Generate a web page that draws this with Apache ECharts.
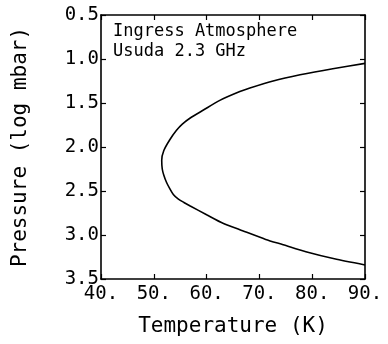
<!DOCTYPE html>
<html>
<head>
<meta charset="utf-8">
<script src="https://cdn.jsdelivr.net/npm/echarts@6/dist/echarts.min.js"></script>
<style>html,body{margin:0;padding:0;background:#fff;}#c{width:388px;height:344px;}</style>
</head>
<body>
<div id="c"></div>
<script>
// Data (temperature profile vs. log pressure)
var pressureLog = [1.05, 1.11, 1.18, 1.25, 1.33, 1.37, 1.47, 1.58, 1.67, 1.74, 1.81, 1.92, 2.04, 2.15, 2.25, 2.32, 2.40, 2.47, 2.54, 2.59, 2.63, 2.67, 2.77, 2.87, 2.94, 3.05, 3.11, 3.19, 3.27, 3.34];
var temperatureK = [90.0, 83.9, 77.7, 72.6, 68.2, 66.3, 62.5, 59.4, 56.9, 55.4, 54.3, 53.0, 51.9, 51.5, 51.6, 51.9, 52.4, 53.0, 53.7, 54.6, 55.7, 56.9, 60.0, 63.2, 66.3, 71.2, 74.5, 78.8, 84.2, 90.0];
var xTicks = [40, 50, 60, 70, 80, 90];
var yTicks = [0.5, 1.0, 1.5, 2.0, 2.5, 3.0, 3.5];
var annotationLines = ['Ingress Atmosphere', 'Usuda 2.3 GHz'];
var xName = 'Temperature (K)';
var yName = 'Pressure (log mbar)';

var FONT = '"DejaVu Sans Mono", monospace';
var chart = echarts.init(document.getElementById('c'), null, {renderer: 'canvas'});
var pts = pressureLog.map(function (p, i) { return [temperatureK[i], p]; });

var axisLineStyle = {show: true, lineStyle: {color: '#000', width: 1.6}};
var tickStyle = {show: true, inside: true, length: 5, lineStyle: {color: '#000', width: 1.2}};

chart.setOption({
  animation: false,
  backgroundColor: '#fff',
  grid: {left: 101, right: 23, top: 15, bottom: 65, containLabel: false},
  xAxis: [{
    type: 'value', position: 'bottom',
    min: xTicks[0], max: xTicks[xTicks.length - 1], interval: xTicks[1] - xTicks[0],
    axisLine: axisLineStyle, axisTick: tickStyle, splitLine: {show: false},
    axisLabel: {color: '#000', fontFamily: FONT, fontSize: 19, margin: 6,
      formatter: function (v) { return v + '.'; }},
    name: xName, nameLocation: 'middle', nameGap: 37,
    nameTextStyle: {color: '#000', fontFamily: FONT, fontSize: 21}
  }, {
    type: 'value', position: 'top',
    min: xTicks[0], max: xTicks[xTicks.length - 1], interval: xTicks[1] - xTicks[0],
    axisLine: axisLineStyle, axisTick: tickStyle, splitLine: {show: false},
    axisLabel: {show: false}
  }],
  yAxis: [{
    type: 'value', position: 'left', inverse: true,
    min: yTicks[0], max: yTicks[yTicks.length - 1], interval: 0.5,
    axisLine: axisLineStyle, axisTick: tickStyle, splitLine: {show: false},
    axisLabel: {color: '#000', fontFamily: FONT, fontSize: 19, margin: 2,
      formatter: function (v) { return v.toFixed(1); }},
    name: yName, nameLocation: 'middle', nameGap: 70, nameRotate: 90,
    nameTextStyle: {color: '#000', fontFamily: FONT, fontSize: 21}
  }, {
    type: 'value', position: 'right', inverse: true,
    min: yTicks[0], max: yTicks[yTicks.length - 1], interval: 0.5,
    axisLine: axisLineStyle, axisTick: tickStyle, splitLine: {show: false},
    axisLabel: {show: false}
  }],
  graphic: [
    {type: 'text', left: 113, top: 23, style: {text: annotationLines[0], fill: '#000', font: '17px ' + FONT}},
    {type: 'text', left: 113, top: 43, style: {text: annotationLines[1], fill: '#000', font: '17px ' + FONT}}
  ],
  series: [{
    type: 'line', xAxisIndex: 0, yAxisIndex: 0,
    data: pts, showSymbol: false, smooth: 0.25,
    lineStyle: {color: '#000', width: 1.6}
  }]
});
</script>
</body>
</html>
